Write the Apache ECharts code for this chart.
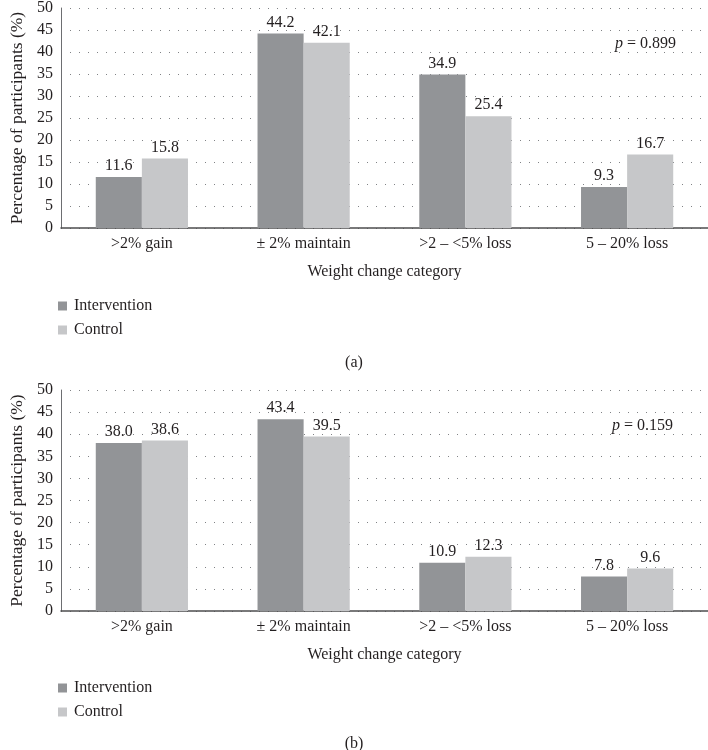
<!DOCTYPE html>
<html><head><meta charset="utf-8">
<script src="https://cdn.jsdelivr.net/npm/echarts@6/dist/echarts.min.js"></script>
<style>html,body{margin:0;padding:0;background:#fff}#c{width:708px;height:750px}</style>
</head><body><div id="c"></div>
<script>
var categories = ['>2% gain', '± 2% maintain', '>2 – <5% loss', '5 – 20% loss'];
var interventionA = [11.6, 44.2, 34.9, 9.3];
var controlA = [15.8, 42.1, 25.4, 16.7];
var interventionB = [38.0, 43.4, 10.9, 7.8];
var controlB = [38.6, 39.5, 12.3, 9.6];
var pA = '0.899';
var pB = '0.159';
var seriesNames = ['Intervention', 'Control'];

var FONT = '"Liberation Serif", "DejaVu Serif", serif';
var TXT = '#231f20';
var DARK = '#929497';
var LIGHT = '#c6c7c9';

function xAx(gi) {
  return {
    type: 'category', gridIndex: gi, data: categories,
    axisLine: {lineStyle: {color: '#4d4d4f', width: 1.5}},
    axisTick: {show: false},
    axisLabel: {fontFamily: FONT, fontSize: 16, color: TXT, margin: 8},
    name: 'Weight change category', nameLocation: 'middle', nameGap: 36,
    nameTextStyle: {fontFamily: FONT, fontSize: 16, color: TXT}
  };
}
function yAx(gi) {
  return {
    type: 'value', gridIndex: gi, min: 0, max: 50, interval: 5,
    axisLine: {show: true, lineStyle: {color: '#6d6e71', width: 1}},
    axisTick: {show: false},
    axisLabel: {fontFamily: FONT, fontSize: 16, color: TXT, margin: 8},
    splitLine: {show: true, lineStyle: {color: '#808285', width: 1, type: [1, 8]}},
    name: 'Percentage of participants (%)', nameLocation: 'middle', nameGap: 35,
    nameTextStyle: {fontFamily: FONT, fontSize: 17.5, color: TXT}
  };
}
function bar(name, data, gi, color) {
  return {
    type: 'bar', name: name, data: data, xAxisIndex: gi, yAxisIndex: gi,
    barGap: '0%', barCategoryGap: '43%',
    itemStyle: {color: color},
    label: {show: true, position: 'top', distance: 3, fontFamily: FONT, fontSize: 16, color: TXT,
      formatter: function (p) { return p.value.toFixed(1); }},
    emphasis: {disabled: true}
  };
}
function leg(top) {
  return {
    orient: 'vertical', left: 53, top: top, icon: 'rect', itemWidth: 9, itemHeight: 9,
    itemGap: 8, data: seriesNames, selectedMode: false,
    textStyle: {fontFamily: FONT, fontSize: 16, color: TXT, padding: [0, 0, 0, 2]}
  };
}
function ptext(left, top, val) {
  return {
    left: left, top: top, text: '{i|p} = ' + val,
    textStyle: {fontFamily: FONT, fontSize: 16, color: TXT, fontWeight: 'normal',
      rich: {i: {fontFamily: FONT, fontSize: 16, fontStyle: 'italic', color: TXT}}}
  };
}
function sub(top, t) {
  return {left: 'center', top: top, text: t,
    textStyle: {fontFamily: FONT, fontSize: 16, color: TXT, fontWeight: 'normal'}};
}

var chart = echarts.init(document.getElementById('c'), null, {renderer: 'canvas'});
chart.setOption({
  animation: false,
  backgroundColor: '#fff',
  grid: [
    {left: 56, top: 7, width: 652, height: 221},
    {left: 54, top: 390, width: 654, height: 221}
  ],
  xAxis: [xAx(0), xAx(1)],
  yAxis: [yAx(0), yAx(1)],
  legend: [leg(293), leg(675)],
  title: [ptext(610, 31, pA), ptext(607, 413, pB), sub(350, '(a)'), sub(731, '(b)')],
  series: [
    bar(seriesNames[0], interventionA, 0, DARK),
    bar(seriesNames[1], controlA, 0, LIGHT),
    bar(seriesNames[0], interventionB, 1, DARK),
    bar(seriesNames[1], controlB, 1, LIGHT)
  ]
});
</script></body></html>
